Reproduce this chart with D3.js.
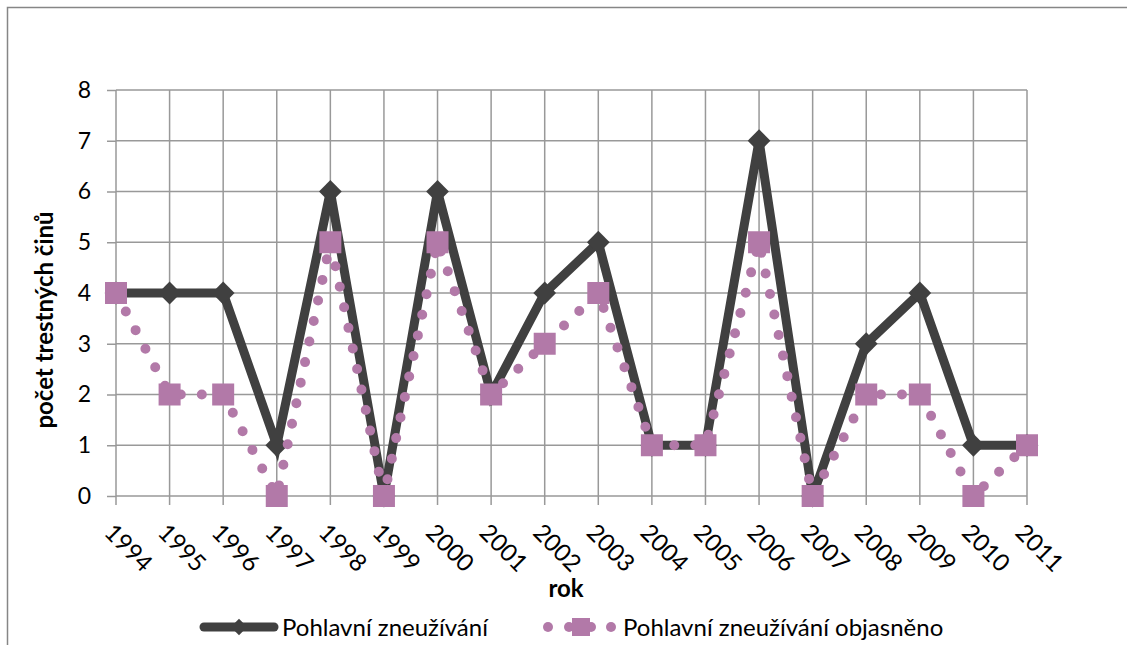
<!DOCTYPE html>
<html><head><meta charset="utf-8">
<script src="https://cdn.jsdelivr.net/npm/d3@7"></script>
<style>body{margin:0;background:#fff}svg{display:block}text{font-family:Lato,"Open Sans",sans-serif}</style>
</head><body>
<script>
const years = ["1994","1995","1996","1997","1998","1999","2000","2001","2002","2003","2004","2005","2006","2007","2008","2009","2010","2011"];
const abuse = [4,4,4,1,6,0,6,2,4,5,1,1,7,0,3,4,1,1];
const abuseSolved = [4,2,2,0,5,0,5,2,3,4,1,1,5,0,2,2,0,1];
const yTicks = [0,1,2,3,4,5,6,7,8];
const seriesNames = ["Pohlavní zneužívání","Pohlavní zneužívání objasněno"];

const W=1127,H=645;
const svg=d3.select("body").append("svg").attr("width",W).attr("height",H);
svg.append("rect").attr("x",7.5).attr("y",7.5).attr("width",W+20).attr("height",H+20).attr("fill","#fff").attr("stroke","#868686").attr("stroke-width",1.5);

const x=d3.scalePoint().domain(years).range([116,1027]);
const y=d3.scaleLinear().domain([0,8]).range([496,90]);
const grid="#999";
const fs=24;

// y axis ticks + labels
const ya=svg.append("g").attr("transform","translate(116,0)")
 .call(d3.axisLeft(y).tickValues(yTicks).tickSize(9).tickPadding(16).tickFormat(d3.format("d")));
ya.select(".domain").remove();
ya.selectAll("line").attr("stroke",grid).attr("stroke-width",1.5);
ya.selectAll("text").attr("font-size",23).attr("fill","#000");
// horizontal gridlines
svg.append("g").selectAll("line").data(yTicks).join("line")
 .attr("x1",116).attr("x2",1027).attr("y1",d=>y(d)).attr("y2",d=>y(d)).attr("stroke",grid).attr("stroke-width",1.5);
// vertical gridlines
svg.append("g").selectAll("line").data(years).join("line")
 .attr("x1",d=>x(d)).attr("x2",d=>x(d)).attr("y1",90).attr("y2",505).attr("stroke",grid).attr("stroke-width",1.5);

// x labels
svg.append("g").selectAll("text").data(years).join("text")
 .attr("transform",d=>`translate(${x(d)-13},${534}) rotate(45)`)
 .attr("font-size",fs).attr("fill","#000").text(d=>d);

// series 1
const line1=d3.line().x((d,i)=>x(years[i])).y(d=>y(d));
svg.append("path").datum(abuse).attr("d",line1).attr("fill","none").attr("stroke","#404040").attr("stroke-width",9).attr("stroke-linejoin","miter");
svg.append("g").selectAll("path").data(abuse).join("path")
 .attr("d",d3.symbol(d3.symbolDiamond2,330)())
 .attr("transform",(d,i)=>`translate(${x(years[i])},${y(d)})`).attr("fill","#404040");

// series 2
svg.append("path").datum(abuseSolved).attr("d",line1).attr("fill","none").attr("stroke","#b279a8").attr("stroke-width",10).attr("stroke-linecap","round").attr("stroke-dasharray","0 21");
svg.append("g").selectAll("rect").data(abuseSolved).join("rect")
 .attr("x",(d,i)=>x(years[i])-11).attr("y",d=>y(d)-11).attr("width",22).attr("height",22).attr("fill","#b279a8");

// titles
svg.append("text").attr("x",566).attr("y",597).attr("text-anchor","middle").attr("font-size",fs).attr("font-weight","bold").text("rok");
svg.append("text").attr("transform","translate(53,320) rotate(-90)").attr("text-anchor","middle").attr("font-size",fs).attr("font-weight","bold").text("počet trestných činů");

// legend
const lg=svg.append("g");
lg.append("line").attr("x1",204).attr("x2",274).attr("y1",627).attr("y2",627).attr("stroke","#404040").attr("stroke-width",9).attr("stroke-linecap","round");
lg.append("path").attr("d",d3.symbol(d3.symbolDiamond2,170)()).attr("transform","translate(239,627)").attr("fill","#404040");
lg.append("text").attr("x",282).attr("y",636).attr("font-size",fs).text(seriesNames[0]);
lg.selectAll("circle").data([548,569,591,611]).join("circle").attr("cx",d=>d).attr("cy",627).attr("r",5).attr("fill","#b279a8");
lg.append("rect").attr("x",572).attr("y",618).attr("width",18).attr("height",18).attr("fill","#b279a8");
lg.append("text").attr("x",623).attr("y",636).attr("font-size",fs).text(seriesNames[1]);
</script>
</body></html>
